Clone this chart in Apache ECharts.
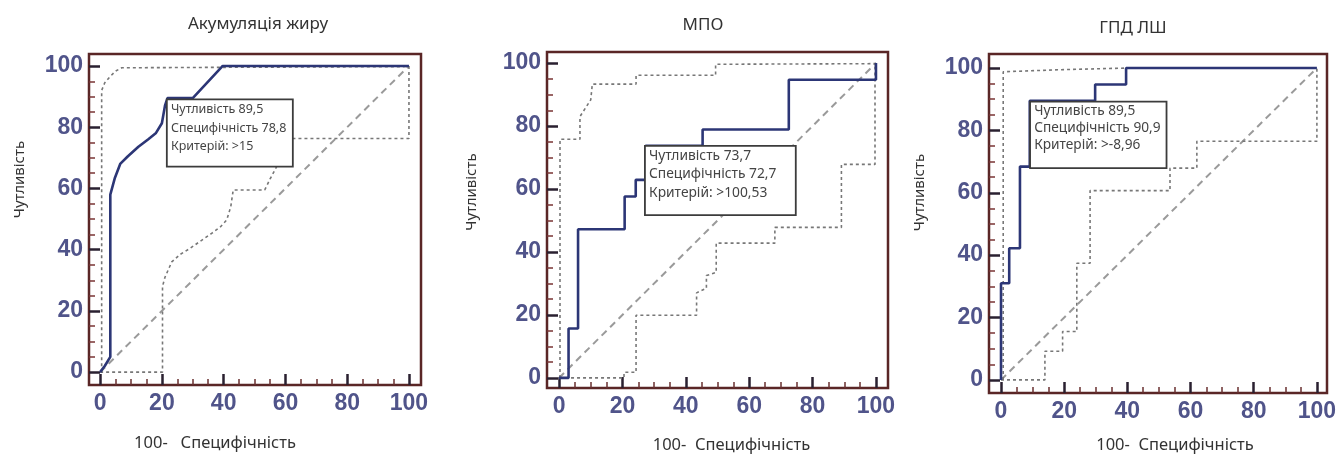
<!DOCTYPE html>
<html>
<head>
<meta charset="utf-8">
<title>ROC-криві</title>
<script src="https://cdn.jsdelivr.net/npm/echarts@6.0.0/dist/echarts.min.js"></script>
<style>
  html, body { margin: 0; padding: 0; background: #fff; }
  #chart { width: 1338px; height: 454px; }
</style>
</head>
<body>
<div id="chart"></div>
<script>
// підписи осей
const majorTicks = [0, 20, 40, 60, 80, 100];
const minorTicks = [5, 10, 15, 25, 30, 35, 45, 50, 55, 65, 70, 75, 85, 90, 95];
const diagonal = [[0, 0], [100, 100]];

// Акумуляція жиру: [100-специфічність, чутливість]
const fatRoc = [[0, 0], [1.5, 2], [3.3, 5], [3.3, 58], [4.8, 63.5], [6.5, 68], [9, 70.5], [12.4, 73.6],
  [15.5, 76], [18, 78], [20, 81.3], [21, 87], [21.8, 89.5], [30, 89.5], [39.7, 100], [100, 100]];
const fatUpper = [[0.5, 0], [0.5, 92], [1.5, 94.5], [3.2, 96.5], [5, 98.3], [7, 99.4], [100, 99.8]];
const fatLower = [[0, 0], [20.2, 0], [20.2, 28], [21, 31], [23.2, 36], [26, 38.5], [29.1, 40.4], [32.5, 42.8],
  [36.1, 45.3], [39, 47.5], [41, 49.7], [42.3, 54], [43.1, 59.5], [53.3, 59.5], [55, 63], [57.1, 67],
  [59, 71], [61.4, 76.3], [100, 76.3], [100, 100]];
const fatNote = ['Чутливість 89,5', 'Специфічність 78,8', 'Критерій: >15'];

// МПО
const mpoRoc = [[0, 0], [3, 0], [3, 15.7], [6, 15.7], [6, 47.2], [20.7, 47.2], [20.7, 57.6], [24.2, 57.6],
  [24.2, 62.9], [27.3, 62.9], [27.3, 73.7], [45.3, 73.7], [45.3, 78.9], [72.5, 78.9], [72.5, 94.7],
  [100, 94.7], [100, 100]];
const mpoUpper = [[0.3, 0], [0.3, 75.8], [6.6, 75.8], [6.6, 83], [10, 88.3], [10.5, 93.3], [24.3, 93.3],
  [24.3, 96.1], [49.4, 96.1], [49.4, 99.6], [100, 99.8]];
const mpoLower = [[0, 0], [20.5, 0], [20.5, 1.8], [24.3, 1.8], [24.3, 19.9], [43.4, 19.9], [43.4, 27],
  [46.5, 28.5], [46.5, 32.5], [49.6, 33.5], [49.6, 42.8], [68.1, 42.8], [68.1, 47.8], [89.1, 47.8],
  [89.1, 67.8], [99.7, 67.8], [99.7, 100]];
const mpoNote = ['Чутливість 73,7', 'Специфічність 72,7', 'Критерій: >100,53'];

// ГПД ЛШ
const lvRoc = [[0, 0], [0, 31], [2.6, 31], [2.6, 42.2], [6, 42.2], [6, 68.4], [9.1, 68.4], [9.1, 89.5],
  [29.8, 89.5], [29.8, 94.7], [39.6, 94.7], [39.6, 100], [100, 100]];
const lvUpper = [[0.7, 0], [0.7, 98.8], [20, 99.5], [40, 100], [100, 100]];
const lvLower = [[0, 0], [13.9, 0], [13.9, 9.2], [19.5, 9.2], [19.5, 15.5], [24, 15.5], [24, 37.4],
  [28.2, 37.4], [28.2, 60.7], [53.5, 60.7], [53.5, 67.9], [62, 67.9], [62, 76.5], [100, 76.5], [100, 100]];
const lvNote = ['Чутливість 89,5', 'Специфічність 90,9', 'Критерій: >-8,96'];

const panels = [
  { title: 'Акумуляція жиру', roc: fatRoc, upper: fatUpper, lower: fatLower, note: fatNote,
    grid: { left: 89, top: 54, width: 332, height: 331 }, x: [-3.6, 103.9], y: [-4.2, 103.9],
    titlePos: [258, 24], xName: '100-   Специфічність', xGap: 50, xPad: [0, 80, 0, 0], yGap: 62, yPad: [0, 0, 0, 80],
    box: [[21.6, 89.1], [62.4, 67.1]], noteSize: 12.5, noteLine: 18.5 },
  { title: 'МПО', roc: mpoRoc, upper: mpoUpper, lower: mpoLower, note: mpoNote,
    grid: { left: 547, top: 52, width: 341, height: 336 }, x: [-3.8, 103.8], y: [-3.2, 103.5],
    titlePos: [703, 25], xName: '100-  Специфічність', xGap: 49, xPad: [0, 0, 0, 28], yGap: 68, yPad: [0, 0, 0, 56],
    box: [[27.1, 73.7], [74.7, 51.7]], noteSize: 13.8, noteLine: 18.3 },
  { title: 'ГПД ЛШ', roc: lvRoc, upper: lvUpper, lower: lvLower, note: lvNote,
    grid: { left: 989, top: 54, width: 338, height: 339 }, x: [-3.8, 103.2], y: [-4.2, 104.5],
    titlePos: [1133, 28], xName: '100-  Специфічність', xGap: 44, xPad: [0, 0, 0, 34], yGap: 62, yPad: [0, 0, 0, 62],
    box: [[9.2, 89.2], [52.4, 67.9]], noteSize: 13.7, noteLine: 17 }
];

const labelFont = { fontFamily: 'Liberation Sans', fontSize: 23, fontWeight: 'bold', color: '#50548a' };
const textFont = 'Noto Sans';

const grids = [], xAxes = [], yAxes = [], series = [], graphics = [];

panels.forEach((p, i) => {
  grids.push(Object.assign({ show: true, borderColor: '#5a2626', borderWidth: 2.5,
    backgroundColor: '#fff', outerBoundsMode: 'none', containLabel: false }, p.grid));

  // основна вісь X: великі поділки та підписи
  xAxes.push({
    gridIndex: i, type: 'value', min: p.x[0], max: p.x[1], position: 'bottom',
    name: p.xName, nameLocation: 'middle', nameGap: p.xGap,
    nameTextStyle: { fontFamily: textFont, fontSize: 16.5, color: '#333', padding: p.xPad },
    axisLine: { show: false, onZero: false }, splitLine: { show: false },
    axisTick: { show: true, inside: true, length: 11, customValues: majorTicks,
      lineStyle: { color: '#2a2030', width: 2.5 } },
    axisLabel: Object.assign({ customValues: majorTicks, margin: 7 }, labelFont)
  });
  // дрібні поділки X
  xAxes.push({
    gridIndex: i, type: 'value', min: p.x[0], max: p.x[1], position: 'bottom',
    axisLine: { show: false, onZero: false }, splitLine: { show: false }, axisLabel: { show: false },
    axisTick: { show: true, inside: true, length: 6, customValues: minorTicks,
      lineStyle: { color: '#6a3030', width: 1.5 } }
  });
  yAxes.push({
    gridIndex: i, type: 'value', min: p.y[0], max: p.y[1], position: 'left',
    name: 'Чутливість', nameLocation: 'middle', nameGap: p.yGap,
    nameTextStyle: { fontFamily: textFont, fontSize: 15, color: '#333', padding: p.yPad },
    axisLine: { show: false, onZero: false }, splitLine: { show: false },
    axisTick: { show: true, inside: true, length: 11, customValues: majorTicks,
      lineStyle: { color: '#2a2030', width: 2.5 } },
    axisLabel: Object.assign({ customValues: majorTicks, margin: 6 }, labelFont)
  });
  yAxes.push({
    gridIndex: i, type: 'value', min: p.y[0], max: p.y[1], position: 'left',
    axisLine: { show: false, onZero: false }, splitLine: { show: false }, axisLabel: { show: false },
    axisTick: { show: true, inside: true, length: 6, customValues: minorTicks,
      lineStyle: { color: '#7a3535', width: 1.5 } }
  });

  const ax = { xAxisIndex: i * 2, yAxisIndex: i * 2 };
  series.push(Object.assign({ type: 'line', data: diagonal, symbol: 'none', z: 1,
    lineStyle: { color: '#9a9a9a', width: 2, type: [7, 5] } }, ax));
  series.push(Object.assign({ type: 'line', data: p.upper, symbol: 'none', z: 2,
    lineStyle: { color: '#777', width: 1.6, type: [3, 3] } }, ax));
  series.push(Object.assign({ type: 'line', data: p.lower, symbol: 'none', z: 2,
    lineStyle: { color: '#777', width: 1.6, type: [3, 3] } }, ax));
  series.push(Object.assign({ type: 'line', data: p.roc, symbol: 'none', z: 3,
    lineStyle: { color: '#2c3676', width: 2.6 } }, ax));
  // рамка з пороговим значенням
  series.push(Object.assign({ type: 'line', data: [], symbol: 'none', z: 10, silent: true,
    markArea: {
      z: 10, silent: true,
      itemStyle: { color: '#fff', borderColor: '#3c3c3c', borderWidth: 1.8 },
      label: { show: true, position: 'insideTopLeft', distance: 2, padding: [0, 0, 0, 3],
        formatter: p.note.join('\n'), fontFamily: textFont, fontSize: p.noteSize,
        lineHeight: p.noteLine, color: '#444' },
      emphasis: { disabled: true },
      data: [[{ coord: p.box[0] }, { coord: p.box[1] }]]
    } }, ax));

  graphics.push({ type: 'text', x: p.titlePos[0], y: p.titlePos[1],
    style: { text: p.title, fill: '#333', font: '17px "Noto Sans"', align: 'center', verticalAlign: 'middle' } });
});

const chart = echarts.init(document.getElementById('chart'));
chart.setOption({
  animation: false,
  grid: grids,
  xAxis: xAxes,
  yAxis: yAxes,
  series: series,
  graphic: graphics
});
</script>
</body>
</html>
